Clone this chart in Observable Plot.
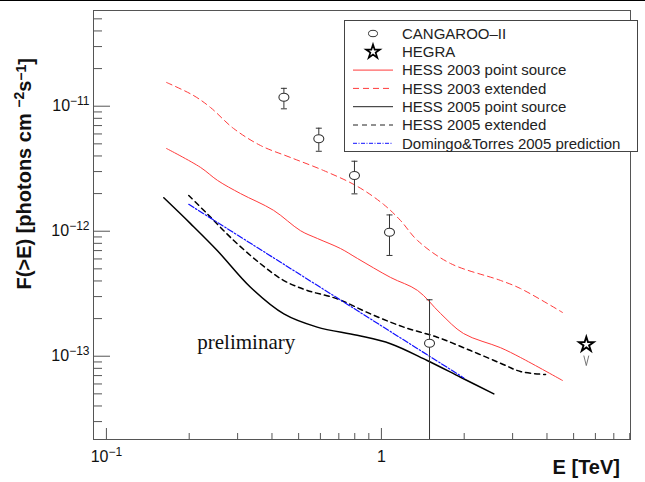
<!DOCTYPE html>
<html><head><meta charset="utf-8">
<script src="https://cdn.jsdelivr.net/npm/d3@7"></script>
<script src="https://cdn.jsdelivr.net/npm/@observablehq/plot@0.6"></script>
<style>
body{margin:0;background:#fff;}
#wrap{position:relative;width:645px;height:482px;font-family:"Liberation Sans",Arial,Helvetica,sans-serif;overflow:hidden;}
#topline{position:absolute;left:0;top:0;width:645px;height:0;border-top:1.5px solid #000;}
#legend{position:absolute;left:344px;top:20px;}
</style></head><body><div id="wrap"><div id="topline"></div></div>
<script>
// ---- data ----
const cangE  = [0.442, 0.592, 0.798, 1.07, 1.496];
const cangF  = [1.18e-11, 5.49e-12, 2.79e-12, 9.82e-13, 1.27e-13];
const cangHi = [1.39e-11, 6.67e-12, 3.63e-12, 1.35e-12, 2.83e-13];
const cangLo = [9.53e-12, 4.36e-12, 1.99e-12, 6.4e-13, 1e-15];

const hegraE = [5.56];
const hegraF = [1.24e-13];

const hess03pE = [0.1654, 0.2199, 0.2535, 0.3074, 0.4052, 0.5078, 0.5857, 0.7100, 0.8187, 1.079, 1.353, 1.640, 1.988, 2.711, 3.204, 4.555];
const hess03pF = [4.59e-12, 3.24e-12, 2.55e-12, 2.00e-12, 1.47e-12, 1.01e-12, 8.74e-13, 7.27e-13, 6.05e-13, 4.27e-13, 3.36e-13, 2.20e-13, 1.52e-13, 1.17e-13, 9.77e-14, 6.40e-14];

const hess03eE = [0.1654, 0.2073, 0.2390, 0.2899, 0.3634, 0.4672, 0.6162, 0.8187, 1.018, 1.173, 1.353, 1.783, 2.711, 3.204, 4.555];
const hess03eF = [1.549e-11, 1.219e-11, 9.77e-12, 6.64e-12, 4.85e-12, 3.89e-12, 3.06e-12, 2.28e-12, 1.64e-12, 1.22e-12, 8.43e-13, 5.52e-13, 4.04e-13, 3.48e-13, 2.24e-13];

const hess05pE = [0.1617, 0.2022, 0.2529, 0.3342, 0.4418, 0.5840, 0.8166, 1.079, 1.467, 1.940, 2.563];
const hess05pF = [1.85e-12, 1.15e-12, 7.01e-13, 3.56e-13, 2.18e-13, 1.71e-13, 1.47e-13, 1.26e-13, 9.24e-14, 6.79e-14, 5.00e-14];

const hess05eE = [0.1993, 0.2325, 0.2905, 0.3634, 0.4418, 0.5374, 0.6906, 0.9127, 1.206, 1.595, 2.109, 2.711, 3.204, 3.952];
const hess05eF = [1.93e-12, 1.38e-12, 8.43e-13, 5.49e-13, 4.03e-13, 3.36e-13, 2.88e-13, 2.18e-13, 1.71e-13, 1.42e-13, 1.11e-13, 8.79e-14, 7.55e-14, 7.14e-14];

const dtE = [0.1993, 0.8166, 1.993];
const dtF = [1.64e-12, 2.32e-13, 6.71e-14];

const prelimE = [0.214];
const prelimF = [1.15e-13];
const prelimText = ["preliminary"];

const xDomain = [0.08975, 8.05];
const yDomain = [2.157e-14, 5.83e-11];
const xMajor = [0.1, 1];
const xMinor = [0.2,0.3,0.4,0.5,0.6,0.7,0.8,0.9,2,3,4,5,6,7,8];
const yMajor = [1e-13, 1e-12, 1e-11];
const yMinor = [];
for (const e of [-14,-13,-12,-11]) for (let m=2;m<=9;m++){const v=m*Math.pow(10,e); if(v>yDomain[0]&&v<yDomain[1]) yMinor.push(v);}

const legendLabels = ["CANGAROO\u2013II","HEGRA","HESS 2003 point source","HESS 2003 extended","HESS 2005 point source","HESS 2005 extended","Domingo&Torres 2005 prediction"];

// ---- tables ----
const zip = (E,F) => E.map((e,i)=>({E:e,F:F[i]}));
const cang = cangE.map((e,i)=>({E:e,F:cangF[i],hi:cangHi[i],lo:cangLo[i]}));
const hegra = zip(hegraE, hegraF);
const prelim = prelimE.map((e,i)=>({E:e,F:prelimF[i],t:prelimText[i]}));

// ---- layout ----
const W=645,H=482,mL=93,mR=15,mT=10,mB=43;
const pw=W-mL-mR, ph=H-mT-mB;
const axisColor="#555";
const RED="#ff3b3b", BLUE="#1010ff";

const ellipse = {draw(ctx){const rx=5,ry=4,k=0.5523;ctx.moveTo(rx,0);ctx.bezierCurveTo(rx,ry*k,rx*k,ry,0,ry);ctx.bezierCurveTo(-rx*k,ry,-rx,ry*k,-rx,0);ctx.bezierCurveTo(-rx,-ry*k,-rx*k,-ry,0,-ry);ctx.bezierCurveTo(rx*k,-ry,rx,-ry*k,rx,0);ctx.closePath();}};
const cap = {draw(ctx){ctx.moveTo(-3,0);ctx.lineTo(3,0);}};
const vee = {draw(ctx){ctx.moveTo(-2.5,-5);ctx.lineTo(0,5);ctx.lineTo(2.5,-5);}};

const fmt = d => d===1 ? "1" : "10^" + Math.round(Math.log10(d));

const chart = Plot.plot({
  width:W, height:H, marginLeft:mL, marginRight:mR, marginTop:mT, marginBottom:mB,
  style:{fontFamily:"'Liberation Sans', Arial, Helvetica, sans-serif", fontSize:"16px", color:"#111", background:"#fff"},
  x:{type:"log", domain:xDomain},
  y:{type:"log", domain:yDomain},
  marks:[
    Plot.axisX(xMajor,{tickSize:0, tickPadding:11, tickFormat:fmt, label:null, fontSize:16}),
    Plot.axisY(yMajor,{tickSize:0, tickPadding:4, tickFormat:fmt, label:null, fontSize:16}),
    Plot.tickX(xMinor,{x:d=>d, insetTop:ph-6, stroke:axisColor}),
    Plot.tickX(xMajor,{x:d=>d, insetTop:ph-11, stroke:axisColor}),
    Plot.tickY(yMinor,{y:d=>d, insetRight:pw-9, stroke:axisColor}),
    Plot.tickY(yMajor,{y:d=>d, insetRight:pw-17, stroke:axisColor}),
    Plot.frame({stroke:axisColor}),
    Plot.line(zip(hess03eE,hess03eF),{x:"E",y:"F",stroke:RED,strokeWidth:1,strokeDasharray:"6,4",curve:"catmull-rom"}),
    Plot.line(zip(hess03pE,hess03pF),{x:"E",y:"F",stroke:RED,strokeWidth:1,curve:"catmull-rom"}),
    Plot.line(zip(hess05eE,hess05eF),{x:"E",y:"F",stroke:"#000",strokeWidth:1.5,strokeDasharray:"5,4",curve:"catmull-rom"}),
    Plot.line(zip(hess05pE,hess05pF),{x:"E",y:"F",stroke:"#000",strokeWidth:1.5,curve:"catmull-rom"}),
    Plot.line(zip(dtE,dtF),{x:"E",y:"F",stroke:BLUE,strokeWidth:1.2,strokeDasharray:"6,2,1.5,2"}),
    Plot.ruleX(cang,{x:"E",y1:"lo",y2:"hi",stroke:"#333",strokeWidth:1,clip:true}),
    Plot.dot(cang,{x:"E",y:"hi",symbol:cap,stroke:"#333",strokeWidth:1}),
    Plot.dot(cang.filter(d=>d.lo>yDomain[0]),{x:"E",y:"lo",symbol:cap,stroke:"#333",strokeWidth:1}),
    Plot.dot(cang,{x:"E",y:"F",symbol:ellipse,fill:"#fff",stroke:"#333",strokeWidth:1.1}),
    Plot.dot(hegra,{x:"E",y:"F",symbol:vee,stroke:"#666",strokeWidth:0.9,dy:16}),
    Plot.dot(hegra,{x:"E",y:"F",symbol:"star",r:4.6,fill:"#fff",stroke:"#000",strokeWidth:1.9}),
    Plot.text(prelim,{x:"E",y:"F",text:"t",textAnchor:"start",lineAnchor:"bottom",fontFamily:"'Liberation Serif', 'Times New Roman', serif",fontSize:21,fill:"#111"})
  ]
});

const NS="http://www.w3.org/2000/svg";
// superscripts on tick labels
chart.querySelectorAll("text").forEach(t=>{
  const m = t.textContent.match(/^10\^(-?\d+)$/);
  if(t.textContent==="1") t.setAttribute("font-size","16");
  if(!m) return;
  t.setAttribute("font-size","16");
  t.textContent="10";
  const s=document.createElementNS(NS,"tspan");
  s.setAttribute("dy","-0.5em"); s.setAttribute("font-size","0.75em");
  s.textContent=m[1].replace("-","\u2212");
  t.appendChild(s);
});

// axis titles
const svg = d3.select(chart);
const yt = svg.append("text")
  .attr("transform","translate(31,58) rotate(-90)")
  .attr("text-anchor","end").attr("font-weight","bold").attr("font-size",20).attr("fill","#111")
  .attr("font-family","'Liberation Sans', Arial, sans-serif");
yt.append("tspan").text("F(>E) [photons cm ");
yt.append("tspan").attr("dy","-0.5em").attr("font-size","0.7em").text("\u22122");
yt.append("tspan").attr("dy","0.35em").text("s");
yt.append("tspan").attr("dy","-0.35em").attr("font-size","0.7em").text("\u22121");
yt.append("tspan").attr("dy","0.35em").text("]");

svg.append("text").attr("x",620).attr("y",474).attr("text-anchor","end")
  .attr("font-weight","bold").attr("font-size",20).attr("fill","#111")
  .attr("font-family","'Liberation Sans', Arial, sans-serif").text("E [TeV]");

document.getElementById("wrap").appendChild(chart);

// legend
const lw=294, lh=132, y0=13.5, step=18.3;
const lg = d3.create("svg").attr("id","legend").attr("width",lw+1).attr("height",lh+1);
lg.append("rect").attr("x",0.5).attr("y",0.5).attr("width",lw-1).attr("height",lh-1).attr("fill","#fff").attr("stroke","#444");
const styles = [
  {kind:"ellipse"},{kind:"star"},
  {kind:"line",stroke:RED,dash:null,w:1},
  {kind:"line",stroke:RED,dash:"6,4",w:1},
  {kind:"line",stroke:"#222",dash:null,w:1},
  {kind:"line",stroke:"#222",dash:"5,4",w:1},
  {kind:"line",stroke:BLUE,dash:"4,1.5,1,1.5",w:1}
];
legendLabels.forEach((lab,i)=>{
  const y = y0 + i*step, st = styles[i];
  if(st.kind==="line"){
    lg.append("line").attr("x1",9).attr("x2",49).attr("y1",y).attr("y2",y)
      .attr("stroke",st.stroke).attr("stroke-width",st.w).attr("stroke-dasharray",st.dash);
  } else if(st.kind==="ellipse"){
    lg.append("ellipse").attr("cx",29).attr("cy",y).attr("rx",4.5).attr("ry",3.2).attr("fill","#fff").attr("stroke","#333");
  } else {
    lg.append("path").attr("transform",`translate(29,${y})`).attr("d",d3.symbol(d3.symbolStar, 60)()).attr("fill","#fff").attr("stroke","#000").attr("stroke-width",1.7);
  }
  lg.append("text").attr("x",58).attr("y",y).attr("dy","0.35em").attr("font-size",15).attr("fill","#222")
    .attr("font-family","'Liberation Sans', Arial, sans-serif").text(lab);
});
document.getElementById("wrap").appendChild(lg.node());
</script></body></html>
